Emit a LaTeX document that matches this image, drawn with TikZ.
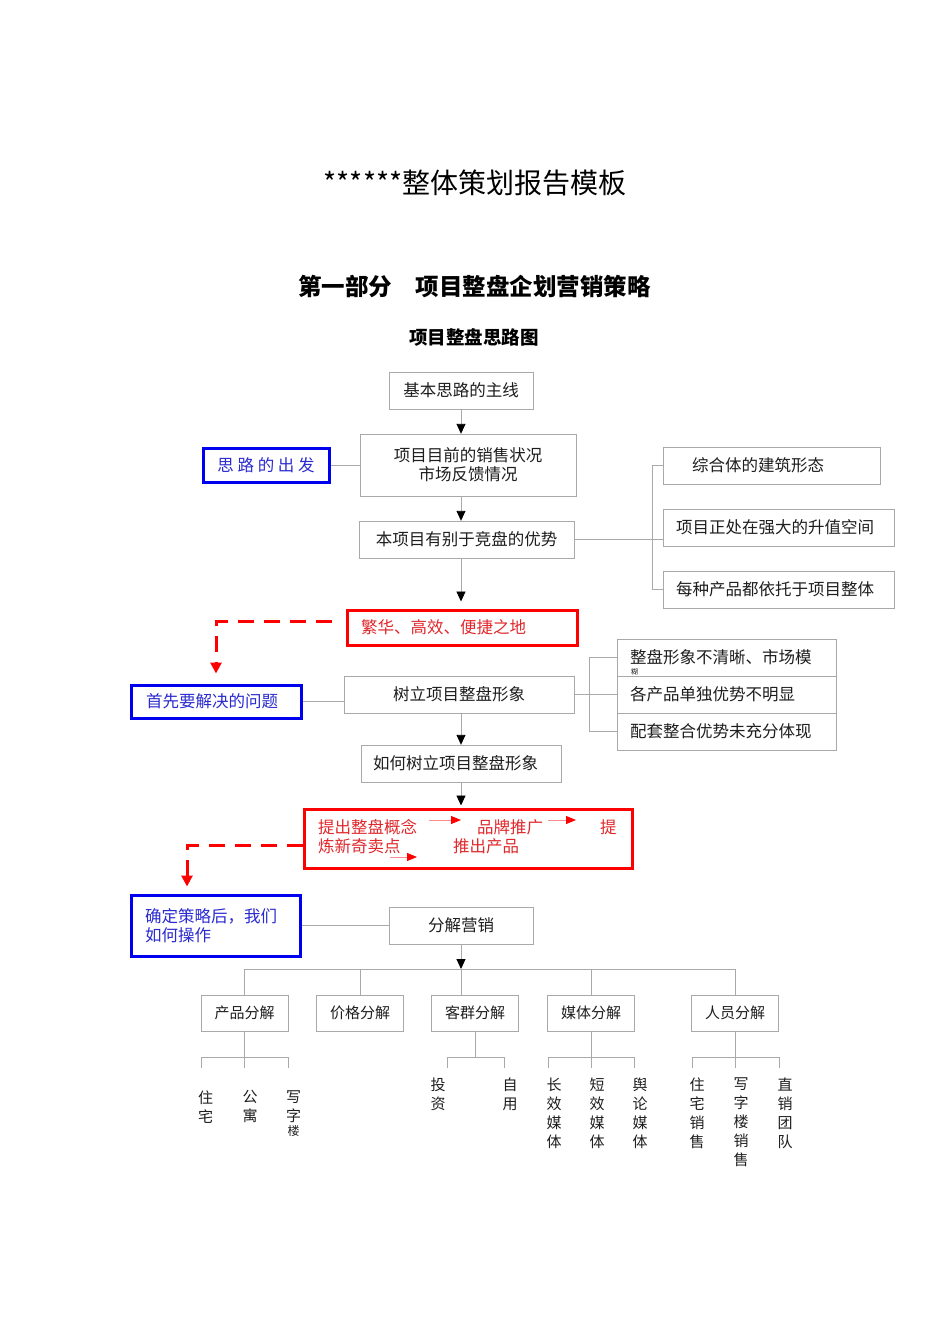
\documentclass[tikz,border=0pt]{standalone}
\usepackage{fontspec}
\setmainfont{Noto Sans CJK SC}
\usepackage{tikz}
\usetikzlibrary{arrows.meta,calc}
\definecolor{cLine} {HTML}{A9A9A9}
\definecolor{cInk}  {HTML}{1E1E1E}
\definecolor{cRed}  {HTML}{FF0000}
\definecolor{cRedT} {HTML}{E0282C}
\definecolor{cBlue} {HTML}{0000F0}
\definecolor{cBlueT}{HTML}{2A2AD0}
\newcommand{\fs}[2]{\fontsize{#1}{#2}\selectfont}
\tikzset{
  box/.style    ={draw=cLine,fill=white,inner sep=0pt,align=center,text=cInk,
                  font=\fs{16.5}{19},minimum height=37pt},
  lpad/.style 2 args={align=left,inner xsep=#1,text width=#2},
  hot/.style    ={box,draw=cRed,line width=3pt,text=cRedT},
  key/.style    ={box,draw=cBlue,line width=3pt,text=cBlueT},
  cell/.style   ={box,font=\fs{15}{18},minimum width=87pt,minimum height=36pt},
  ln/.style     ={draw=cLine,line width=0.9pt},
  arr/.style    ={ln,-{Triangle[length=10pt,width=9pt,color=black]}},
  dsh/.style    ={draw=cRed,line width=3pt,dash pattern=on 16pt off 10pt,
                  -{Triangle[length=11pt,width=11pt]}},
  ra/.style     ={draw=cRed!45,line width=0.8pt,-{Triangle[length=10pt,width=8pt,color=cRed]}},
}

\begin{document}
\begin{tikzpicture}[x=1pt,y=-1pt,
  leaf/.style={align=center,inner sep=0pt,anchor=north,font=\fs{15}{19},text=cInk},
  rtxt/.style={anchor=west,inner sep=0pt,font=\fs{16.5}{19},text=cRedT},
]
\useasboundingbox (0,0) rectangle (950,1344);
\coordinate (spine) at (461,0);
\coordinate (bus1)  at (652,0);
\coordinate (bus2)  at (589,0);

% ===== headings ==========================================================
\node[font=\fs{28}{32}] (title) at (475,183) {******整体策划报告模板};
\node[font=\bfseries\fs{23.5}{28}] (part) at (474.5,287) {第一部分　项目整盘企划营销策略};
\node[font=\bfseries\fs{18.5}{22}] (cap) at (474,337) {项目整盘思路图};

% ===== starting point ====================================================
\node[box,minimum width=144pt] (main) at (461,390.5) {基本思路的主线};
\node[box,minimum width=216pt,minimum height=62pt] (now) at (468,465)
  {项目目前的销售状况\\市场反馈情况};
\node[key,minimum width=126pt,minimum height=34pt] (start) at (266,465) {思 路 的 出 发};
\node[box,minimum width=215pt] (edge) at (466.5,539.5) {本项目有别于竞盘的优势};
\node[box,lpad={29pt}{159pt}] (ad1) at (771.5,465.5) {综合体的建筑形态};
\node[box,lpad={13pt}{205pt}] (ad2) at (778.5,527.5) {项目正处在强大的升值空间};
\node[box,lpad={13pt}{205pt}] (ad3) at (778.5,589.5) {每种产品都依托于项目整体};

\draw[arr] (main.south) -- (main.south |- now.north);
\draw[ln]  (start.east) -- (start.east -| now.west);
\draw[arr] (now.south -| spine) -- (edge.north -| spine);
\draw[ln]  (edge.east) -- (edge.east -| ad2.west);
\draw[ln]  (ad1.west) -| (bus1 |- ad3.west) -- (ad3.west);

% ===== image problem =====================================================
\node[hot,lpad={14pt}{202pt},minimum height=35pt] (slogan) at (462,627.5) {繁华、高效、便捷之地};
\node[key,lpad={15pt}{140pt},minimum height=33pt] (first) at (216,701.5) {首先要解决的问题};
\node[box,minimum width=230pt] (image) at (459,694.5) {树立项目整盘形象};
\node[box,lpad={13pt}{193pt}] (weak1) at (726.5,657.5) {整盘形象不清晰、市场模};
\node[anchor=west,inner sep=0pt,font=\fs{7}{8},text=cInk] (blur) at (631,671.5) {糊};
\node[box,lpad={13pt}{193pt}] (weak2) at (726.5,694.5) {各产品单独优势不明显};
\node[box,lpad={13pt}{193pt}] (weak3) at (726.5,731.5) {配套整合优势未充分体现};
\node[box,lpad={12pt}{176pt}] (how) at (461,763.5) {如何树立项目整盘形象};

\draw[arr,shorten >=7pt] (edge.south -| spine) -- (slogan.north -| spine);
\draw[dsh,shorten <=14pt,shorten >=10pt] ([yshift=6.5pt]slogan.west) -| (first.north);
\draw[ln]  (first.east) -- (first.east -| image.west);
\draw[ln]  (image.east) -- (image.east -| weak2.west);
\draw[ln]  (weak1.west) -| (bus2 |- weak3.west) -- (weak3.west);
\draw[arr] (image.south -| spine) -- (how.north -| spine);

% ===== strategy ==========================================================
\node[hot,minimum width=328pt,minimum height=59pt] (plan) at (468,838.5) {};
\node[rtxt] (p1) at (318,827) {提出整盘概念};
\node[rtxt] (p2) at (477,827) {品牌推广};
\node[rtxt] (p3) at (600,827) {提};
\node[rtxt] (p4) at (318,846) {炼新奇卖点};
\node[rtxt] (p5) at (453,846) {推出产品};
\draw[ra] ([xshift=12pt,yshift=7pt]p1.east) -- ([xshift=-16pt,yshift=7pt]p2.west);
\draw[ra] ([xshift=5pt,yshift=7pt]p2.east) -- ([xshift=-24pt,yshift=7pt]p3.west);
\draw[ra] ([xshift=-11pt,yshift=-11pt]p4.east) -- ([xshift=-36pt,yshift=-11pt]p5.west);
\draw[arr,shorten >=2pt] (how.south -| spine) -- (plan.north -| spine);

\node[key,lpad={14pt}{141pt},minimum height=61pt] (act) at (215.5,925.5)
  {确定策略后，我们\\如何操作};
\node[box,minimum width=144pt] (split) at (461,925.5) {分解营销};
\draw[dsh,shorten >=7pt] ([yshift=-6.5pt]plan.west) -| ($(act.north)+(-28.5,0)$);
\draw[ln]  (act.east) -- (act.east -| split.west);

% ===== breakdown =========================================================
\foreach \n/\x/\t in {cp/244.5/产品分解, jg/360/价格分解, kq/475/客群分解,
                      mt/591/媒体分解, ry/735/人员分解}
  \node[cell] (\n) at (\x,1013) {\t};

\coordinate (hb) at (461,969);
\draw[arr] (split.south) -- (hb);
\draw[ln]  (cp.north |- hb) -- (ry.north |- hb);
\draw[ln]  (hb) -- (hb |- kq.north);
\foreach \n in {cp,jg,mt,ry}
  \draw[ln] (\n.north |- hb) -- (\n.north);

% each group fans out to its leaves; the two-leaf fork has no middle drop
\coordinate (sb) at (0,1057);
\coordinate (se) at (0,1068);
\newcommand{\fork}[3]{%
  \draw[ln] (#1.south) -- (#1.south |- sb);
  \draw[ln] ($(#1.south |- sb)+(-#2,0)$) -- ($(#1.south |- sb)+(#3,0)$);
  \draw[ln] ($(#1.south |- sb)+(-#2,0)$) -- ($(#1.south |- se)+(-#2,0)$);
  \draw[ln] ($(#1.south |- sb)+(#3,0)$) -- ($(#1.south |- se)+(#3,0)$);}
\fork{cp}{43}{43.5}
\fork{kq}{28}{29}
\fork{mt}{43}{43}
\fork{ry}{43}{44}
\foreach \n in {cp,mt,ry}
  \draw[ln] (\n.south |- sb) -- (\n.south |- se);

\foreach \n/\x/\y/\t in {zz/205.5/1090.5/住\\宅, gy/250/1090.5/公\\寓,
    tz/438/1077.5/投\\资, zy/510/1077.5/自\\用,
    cx/554/1077.5/长\\效\\媒\\体, dx/597/1077.5/短\\效\\媒\\体,
    yl/640/1077.5/舆\\论\\媒\\体, zs/697/1077.5/住\\宅\\销\\售,
    xs/741/1077.5/写\\字\\楼\\销\\售, td/785/1077.5/直\\销\\团\\队}
  \node[leaf] (l\n) at (\x,\y) {\t};
\node[leaf] (lxz) at (293.5,1090.5) {写\\字\\[-5pt]{\fs{12}{12}楼}};
\end{tikzpicture}
\end{document}
